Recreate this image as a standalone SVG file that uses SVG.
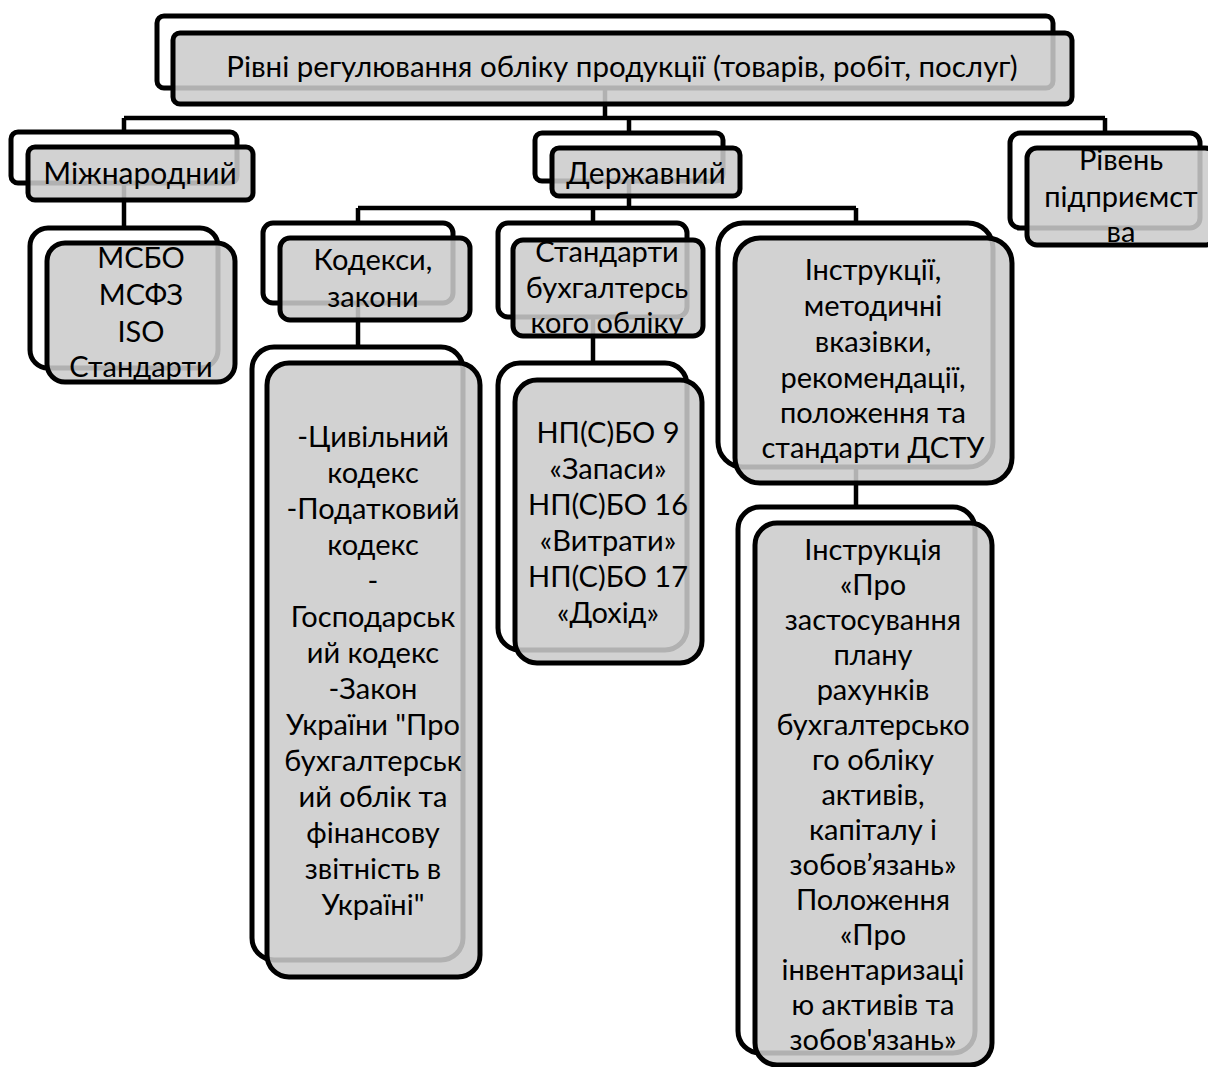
<svg xmlns="http://www.w3.org/2000/svg" width="1208" height="1067" viewBox="0 0 1208 1067">
<style>
.back{fill:#fff;stroke:#000;stroke-width:5}
.front{fill:#cbcbcb;fill-opacity:.87;stroke:none}
.edge{fill:none;stroke:#000;stroke-width:5}
.t{font-family:Lato,"Noto Sans",sans-serif;font-size:29px;text-anchor:middle;fill:#000}
.conn{stroke:#000;stroke-width:4.5;fill:none}
</style>
<rect width="1208" height="1067" fill="#fff"/>
<g id="connectors" class="conn">
<path d="M605 88V118M124 118H1105M124 118V132M629 118V133M1105 118V133"/>
<path d="M124 183V228"/>
<path d="M629 181V208M358 208H856M358 208V223M593 208V223M856 208V223"/>
<path d="M358 303V347"/>
<path d="M593 317V363"/>
<path d="M856 467V507"/>
</g>
<g id="root">
<rect class="back" x="157" y="16" width="896" height="72" rx="7"/>
<rect class="front" x="173" y="33" width="899" height="71" rx="7"/>
<text class="t" x="622" y="77" style="font-size:29.5px">Рівні регулювання обліку продукції (товарів, робіт, послуг)</text>
<rect class="edge" x="173" y="33" width="899" height="71" rx="7"/>
</g>
<g id="international">
<rect class="back" x="11" y="132" width="226" height="51" rx="7"/>
<rect class="front" x="28" y="147" width="225" height="53" rx="7"/>
<text class="t" x="140" y="184" style="font-size:30px">Міжнародний</text>
<rect class="edge" x="28" y="147" width="225" height="53" rx="7"/>
</g>
<g id="state">
<rect class="back" x="535" y="133" width="188" height="48" rx="7"/>
<rect class="front" x="552" y="148" width="188" height="48" rx="7"/>
<text class="t" x="646" y="184" style="font-size:30px">Державний</text>
<rect class="edge" x="552" y="148" width="188" height="48" rx="7"/>
</g>
<g id="enterprise">
<rect class="back" x="1010" y="133" width="190" height="95" rx="10"/>
<rect class="front" x="1027" y="148" width="188" height="97" rx="10"/>
<text class="t"><tspan x="1121" y="170">Рівень</tspan><tspan x="1121" y="207">підприємст</tspan><tspan x="1121" y="242">ва</tspan></text>
<rect class="edge" x="1027" y="148" width="188" height="97" rx="10"/>
</g>
<g id="msbo">
<rect class="back" x="30" y="228" width="188" height="140" rx="18"/>
<rect class="front" x="47" y="243" width="188" height="139" rx="18"/>
<text class="t"><tspan x="141" y="268">МСБО</tspan><tspan x="141" y="305">МСФЗ</tspan><tspan x="141" y="342">ISO</tspan><tspan x="141" y="377">Стандарти</tspan></text>
<rect class="edge" x="47" y="243" width="188" height="139" rx="18"/>
</g>
<g id="codes">
<rect class="back" x="263" y="223" width="190" height="80" rx="10"/>
<rect class="front" x="280" y="238" width="190" height="82" rx="10"/>
<text class="t"><tspan x="373" y="270">Кодекси,</tspan><tspan x="373" y="307">закони</tspan></text>
<rect class="edge" x="280" y="238" width="190" height="82" rx="10"/>
</g>
<g id="standards">
<rect class="back" x="498" y="223" width="189" height="94" rx="10"/>
<rect class="front" x="513" y="240" width="190" height="96" rx="10"/>
<text class="t"><tspan x="607" y="262">Стандарти</tspan><tspan x="607" y="298">бухгалтерсь</tspan><tspan x="607" y="333">кого обліку</tspan></text>
<rect class="edge" x="513" y="240" width="190" height="96" rx="10"/>
</g>
<g id="instructions">
<rect class="back" x="718" y="223" width="275" height="244" rx="25"/>
<rect class="front" x="735" y="238" width="277" height="245" rx="25"/>
<text class="t"><tspan x="873" y="280">Інструкції,</tspan><tspan x="873" y="316">методичні</tspan><tspan x="873" y="352">вказівки,</tspan><tspan x="873" y="388">рекомендації,</tspan><tspan x="873" y="423">положення та</tspan><tspan x="873" y="458">стандарти ДСТУ</tspan></text>
<rect class="edge" x="735" y="238" width="277" height="245" rx="25"/>
</g>
<g id="laws">
<rect class="back" x="252" y="347" width="211" height="613" rx="22"/>
<rect class="front" x="267" y="363" width="213" height="614" rx="22"/>
<text class="t"><tspan x="373" y="447">-Цивільний</tspan><tspan x="373" y="483">кодекс</tspan><tspan x="373" y="519">-Податковий</tspan><tspan x="373" y="555">кодекс</tspan><tspan x="373" y="591">-</tspan><tspan x="373" y="627">Господарськ</tspan><tspan x="373" y="663">ий кодекс</tspan><tspan x="373" y="699">-Закон</tspan><tspan x="373" y="735">України "Про</tspan><tspan x="373" y="771">бухгалтерськ</tspan><tspan x="373" y="807">ий облік та</tspan><tspan x="373" y="843">фінансову</tspan><tspan x="373" y="879">звітність в</tspan><tspan x="373" y="915">Україні"</tspan></text>
<rect class="edge" x="267" y="363" width="213" height="614" rx="22"/>
</g>
<g id="npsbo">
<rect class="back" x="498" y="363" width="189" height="287" rx="22"/>
<rect class="front" x="515" y="380" width="187" height="283" rx="22"/>
<text class="t"><tspan x="608" y="443">НП(С)БО 9</tspan><tspan x="608" y="479">«Запаси»</tspan><tspan x="608" y="515">НП(С)БО 16</tspan><tspan x="608" y="551">«Витрати»</tspan><tspan x="608" y="587">НП(С)БО 17</tspan><tspan x="608" y="623">«Дохід»</tspan></text>
<rect class="edge" x="515" y="380" width="187" height="283" rx="22"/>
</g>
<g id="instruction-plan">
<rect class="back" x="738" y="507" width="237" height="546" rx="22"/>
<rect class="front" x="755" y="523" width="237" height="542" rx="22"/>
<text class="t"><tspan x="873" y="560">Інструкція</tspan><tspan x="873" y="595">«Про</tspan><tspan x="873" y="630">застосування</tspan><tspan x="873" y="665">плану</tspan><tspan x="873" y="700">рахунків</tspan><tspan x="873" y="735">бухгалтерсько</tspan><tspan x="873" y="770">го обліку</tspan><tspan x="873" y="805">активів,</tspan><tspan x="873" y="840">капіталу і</tspan><tspan x="873" y="875">зобов’язань»</tspan><tspan x="873" y="910">Положення</tspan><tspan x="873" y="945">«Про</tspan><tspan x="873" y="980">інвентаризаці</tspan><tspan x="873" y="1015">ю активів та</tspan><tspan x="873" y="1050">зобов'язань»</tspan></text>
<rect class="edge" x="755" y="523" width="237" height="542" rx="22"/>
</g>
</svg>
